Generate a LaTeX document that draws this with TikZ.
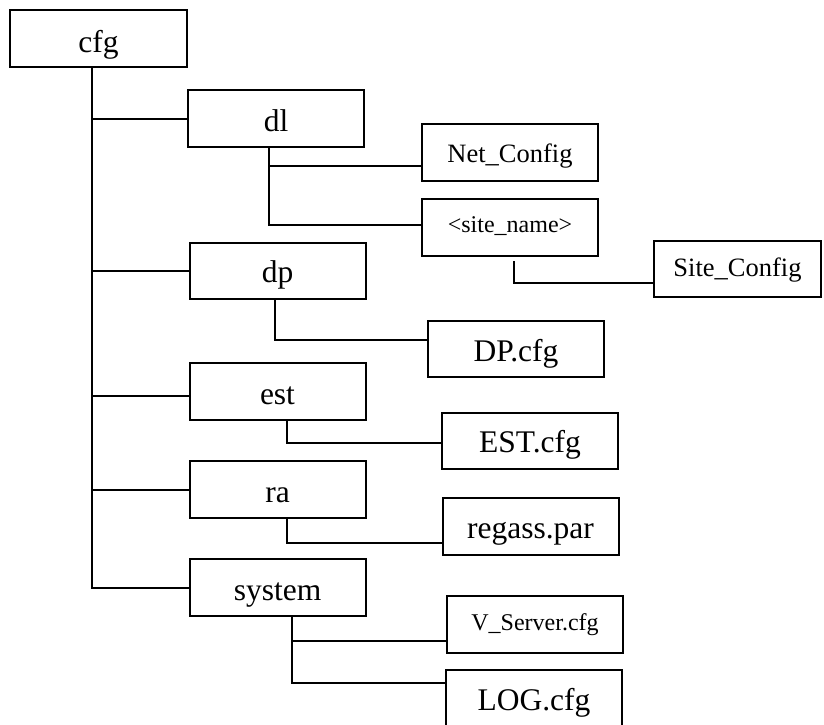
\documentclass[tikz,border=0pt]{standalone}
\usepackage{fontspec}
\setmainfont{Liberation Serif}
\usetikzlibrary{calc}
\tikzset{
  wire/.style={line width=2pt, line cap=rect},
  folder/.style={draw, line width=2pt, rectangle, inner sep=0pt,
    minimum width=176pt, minimum height=57pt,
    font=\fontsize{31.5}{36}\selectfont},
  smallfolder/.style={folder, font=\fontsize{26.5}{30}\selectfont},
  tinyfolder/.style={folder, font=\fontsize{24}{28}\selectfont},
  % baseline sits half the given amount below the box centre
  drop/.style={text height=#1, text depth=0pt}
}
\begin{document}
\begin{tikzpicture}[x=1pt,y=-1pt]
  \useasboundingbox (0,0) rectangle (824,724);
  \clip (0,0) rectangle (824,724);
  \fill[white] (0,0) rectangle (824,724);

  % directory boxes
  \node[folder, minimum width=177pt, drop=27pt] (cfg) at (98.5,38.5) {cfg};
  \node[folder, drop=26pt] (dl) at (276,118.5) {dl};
  \node[smallfolder, drop=20pt] (net) at (510,152.5) {Net\_Config};
  \node[tinyfolder, drop=10pt] (site) at (510,227.5) {<site\_name>};
  \node[smallfolder, minimum width=167pt, minimum height=56pt, drop=15pt] (siteconf) at (737.5,269) {Site\_Config};
  \node[folder, minimum height=56pt, drop=23.4pt] (dp) at (277.5,271) {dp};
  \node[folder, minimum height=56pt, drop=25pt] (dpcfg) at (516,349) {DP.cfg};
  \node[folder, drop=25pt] (est) at (277.5,391.5) {est};
  \node[folder, minimum height=56pt, drop=23.4pt] (estcfg) at (530,441) {EST.cfg};
  \node[folder, drop=25.6pt] (ra) at (277.5,489.5) {ra};
  \node[folder, drop=23.6pt] (regass) at (530.5,526.5) {regass.par};
  \node[folder, drop=25pt] (sys) at (277.5,587.5) {system};
  \node[tinyfolder, drop=11pt] (vserver) at (535,624.5) {V\_Server.cfg};
  \node[folder, drop=23pt] (log) at (534,698.5) {LOG.cfg};

  % main trunk under cfg
  \coordinate (trunk) at ($(cfg.south)+(-7,0)$);
  \draw[wire] (trunk) |- (sys.west);
  \draw[wire] (trunk |- dl.west) -- (dl.west);
  \draw[wire] (trunk |- dp.west) -- (dp.west);
  \draw[wire] ($(trunk |- est.west)+(0,4.5)$) -- ($(est.west)+(0,4.5)$);
  \draw[wire] (trunk |- ra.west) -- (ra.west);

  % dl subtree
  \coordinate (dlroot) at ($(dl.south)+(-7,0)$);
  \draw[wire] (dlroot) |- ($(site.west)+(0,-3)$);
  \draw[wire] ($(dlroot |- net.west)+(0,13.5)$) -- ($(net.west)+(0,13.5)$);

  % site_name subtree
  \coordinate (siteroot) at ($(site.south)+(4,5)$);
  \draw[wire] (siteroot) |- ($(siteconf.west)+(0,14)$);

  % dp, est, ra subtrees
  \coordinate (dproot) at ($(dp.south)+(-2.5,0)$);
  \draw[wire] (dproot) |- ($(dpcfg.west)+(0,-9)$);
  \coordinate (estroot) at ($(est.south)+(9.5,0)$);
  \draw[wire] (estroot) |- ($(estcfg.west)+(0,2)$);
  \coordinate (raroot) at ($(ra.south)+(9.5,0)$);
  \draw[wire] (raroot) |- ($(regass.west)+(0,16.5)$);

  % system subtree
  \coordinate (sysroot) at ($(sys.south)+(14.5,0)$);
  \draw[wire] (sysroot) |- ($(log.west)+(0,-15.5)$);
  \draw[wire] ($(sysroot |- vserver.west)+(0,16.5)$) -- ($(vserver.west)+(0,16.5)$);
\end{tikzpicture}
\end{document}
